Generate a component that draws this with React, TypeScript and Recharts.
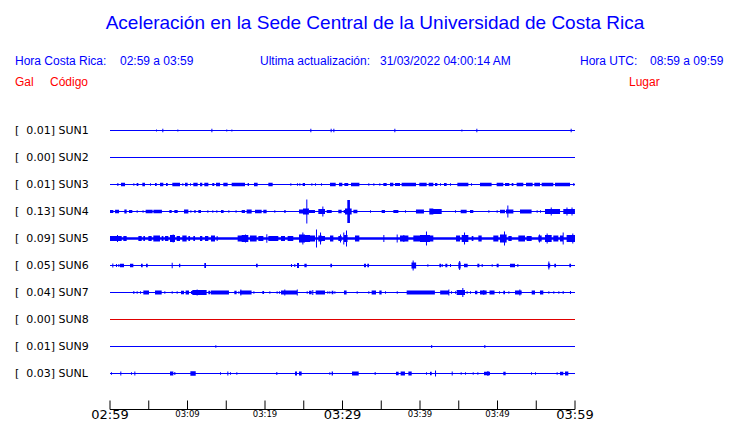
import React from "react";
import { ComposedChart, Area, XAxis, YAxis, ReferenceLine } from "recharts";

// station info, top to bottom
const codes = ["SUN1", "SUN2", "SUN3", "SUN4", "SUN5", "SUN6", "SUN7", "SUN8", "SUN9", "SUNL"];
const peaks = ["0.01", "0.00", "0.01", "0.13", "0.09", "0.05", "0.04", "0.00", "0.01", "0.03"];
const places = [
  "CIMAR", "Ingenieria P01", "Ingenieria P06", "EBCI", "Rectoria",
  "Agroalimentarias", "Archivo", "Electrica P06", "Electrica P01", "LANAMME-CTT",
];
const lineColors = ["#0000ff", "#0000ff", "#0000ff", "#0000ff", "#0000ff", "#0000ff", "#0000ff", "#e00000", "#0000ff", "#0000ff"];

// minutes after 02:59
const timeTicks = [0, 5, 10, 15, 20, 25, 30, 35, 40, 45, 50, 55, 60];
const timeLabels = ["02:59", "", "03:09", "", "03:19", "", "03:29", "", "03:39", "", "03:49", "", "03:59"];

// bursts: [start min, duration min, half amplitude]
const sun1 = [
  [5.94, 0.13, 1], [6.75, 0.13, 1.7], [8.69, 0.13, 1], [13.08, 0.13, 1.7], [15.0, 0.13, 1],
  [15.66, 0.13, 1], [25.85, 0.13, 1.7], [28.47, 0.13, 1.7], [28.82, 0.13, 1.7], [36.69, 0.13, 1.7],
  [45.34, 0.13, 1], [47.27, 0.13, 1.7], [59.44, 0.13, 1.7],
];
const sun2: number[][] = [];
const sun3 = [
  [0.95, 0.13, 1.5], [1.42, 0.52, 1.7], [3.01, 0.13, 1.3], [3.44, 0.22, 1.5], [4.17, 0.34, 1.7],
  [5.16, 0.13, 1.3], [5.81, 0.22, 1.5], [6.45, 0.43, 1.7], [7.23, 0.22, 1.5], [8.04, 0.99, 1.7],
  [9.33, 0.13, 1.3], [9.68, 0.34, 1.7], [10.32, 0.13, 1.3], [10.75, 0.56, 1.7], [11.61, 0.3, 1.7],
  [12.17, 0.52, 1.7], [13.2, 0.26, 1.5], [13.68, 0.52, 1.7], [14.62, 0.56, 1.7], [15.7, 1.72, 1.7],
  [17.76, 0.17, 1.5], [18.58, 0.47, 1.7], [20.43, 0.56, 1.7], [23.27, 0.13, 1.3], [24.13, 0.13, 1.3],
  [24.43, 0.13, 1.3], [24.86, 0.3, 1.5], [25.98, 0.13, 1.3], [26.45, 0.13, 1.3], [27.23, 0.13, 1.3],
  [28.39, 0.73, 1.7], [29.55, 0.43, 1.7], [30.24, 0.5, 1.5], [31.1, 1.08, 1.7], [33.33, 0.13, 1.3],
  [33.98, 0.13, 1.3], [34.75, 0.13, 1.3], [35.27, 0.43, 1.5], [36.13, 0.43, 1.7], [36.77, 0.65, 1.5],
  [37.63, 1.85, 1.7], [39.91, 0.95, 1.7], [41.12, 0.6, 1.7], [41.94, 0.3, 1.5], [42.58, 0.13, 1.3],
  [43.1, 0.34, 1.5], [43.87, 0.13, 1.3], [44.82, 1.42, 1.7], [46.58, 0.13, 1.3], [47.74, 1.5, 1.7],
  [49.89, 0.86, 1.7], [50.97, 0.56, 1.5], [51.83, 0.22, 1.5], [52.47, 0.86, 1.7], [53.68, 0.86, 1.7],
  [54.75, 0.73, 1.7], [55.7, 1.5, 1.7], [57.42, 1.94, 1.7], [59.78, 0.13, 1.5],
];
const sun4 = [
  [0, 0.43, 1.5], [0.65, 0.52, 1.7], [1.85, 0.3, 2], [2.45, 0.43, 1.5], [3.44, 0.13, 1.3],
  [4.2, 0.13, 1.3], [4.6, 0.9, 1.7], [5.6, 1.1, 1.7], [7.66, 0.3, 1.5], [8.3, 0.43, 1.5],
  [9.55, 0.56, 2], [10.37, 0.13, 1.3], [10.88, 0.17, 1.5], [11.4, 0.34, 1.5], [12.56, 0.13, 1.3],
  [13.2, 0.13, 1.3], [13.72, 0.13, 1.3], [14.32, 0.34, 1.5], [15.27, 0.13, 1.3], [16.2, 0.13, 1.3],
  [16.99, 0.43, 1.5], [17.63, 0.65, 2], [18.71, 0.86, 1.7], [19.78, 0.43, 1.7], [21.2, 0.13, 1.3],
  [22.49, 0.17, 1.5], [24.39, 0.56, 2], [24.9, 0.77, 3], [25.33, 0.13, 12], [25.68, 0.77, 1.5],
  [26.88, 0.86, 2.5], [27.4, 0.13, 5], [27.96, 0.65, 1.5], [29.46, 0.43, 1.7], [30.15, 0.17, 1.5],
  [30.32, 0.86, 3], [30.62, 0.34, 11.5], [31.4, 0.52, 1.7], [33.55, 0.13, 1.3], [35.05, 0.43, 1.5],
  [36.56, 0.65, 1.5], [38.06, 0.13, 1.3], [39.48, 1.03, 2], [41.2, 0.52, 3], [41.72, 1.08, 2.5],
  [44.52, 0.13, 1.3], [45.25, 0.77, 1.7], [46.45, 0.43, 1.5], [48.82, 0.13, 1.3], [49.89, 0.13, 1.3],
  [50.32, 0.65, 1.7], [51.1, 0.95, 2], [51.27, 0.13, 6], [52.9, 1.5, 2], [55.05, 0.13, 1.3],
  [55.48, 0.13, 1.3], [56.13, 1.94, 2.5], [56.87, 0.13, 4], [58.49, 1.5, 2.5], [58.9, 0.13, 4],
  [59.55, 0.13, 4],
];
const sun5 = [
  [0, 60, 1.3],
  [0, 0.65, 2.5], [0.9, 0.13, 3.5], [0.65, 0.86, 2.5], [1.72, 0.43, 2.5], [3.66, 0.43, 2.5],
  [4.3, 0.22, 2.5], [4.95, 0.43, 2.5], [5.59, 0.86, 3], [6.67, 0.22, 2.5], [7.1, 0.43, 2.5],
  [7.74, 0.65, 3.5], [8.09, 0.13, 4], [8.6, 0.43, 2.5], [9.33, 0.56, 3], [10.11, 0.22, 2.5],
  [10.75, 0.22, 2.5], [11.61, 0.3, 2.5], [12.26, 0.43, 2.5], [13.03, 0.52, 3], [13.76, 0.13, 2.5],
  [16.47, 0.52, 3], [16.99, 0.86, 3.5], [17.42, 0.13, 4], [18.06, 0.86, 3], [19.14, 0.65, 2.5],
  [20.17, 0.13, 4.3], [20.43, 1.29, 2.5], [22.06, 0.52, 2.5], [22.92, 0.73, 2.5], [24.39, 0.77, 4],
  [24.82, 0.13, 6], [25.16, 0.65, 3.5], [25.81, 0.65, 3], [26.58, 0.13, 9], [26.88, 0.43, 3],
  [27.1, 0.13, 6], [27.31, 0.43, 2.5], [28.39, 0.43, 3], [29.46, 0.43, 2.5], [29.68, 0.13, 4],
  [30.15, 0.5, 3.5], [30.1, 0.13, 6], [30.45, 0.13, 8], [31.61, 0.56, 3], [35.27, 0.13, 3.5],
  [36.99, 0.13, 4], [37.42, 1.08, 3], [37.85, 0.13, 3.5], [39.14, 0.86, 3], [40.0, 1.29, 3.5],
  [40.77, 0.13, 7], [41.29, 0.43, 3], [44.65, 0.52, 3], [45.68, 0.13, 6], [45.38, 0.86, 3.5],
  [46.67, 0.22, 2.5], [47.53, 0.43, 3], [49.46, 0.65, 3], [50.32, 0.86, 4], [50.84, 0.13, 7],
  [51.4, 0.43, 2.5], [52.69, 0.86, 3], [53.76, 0.65, 2.5], [55.27, 0.43, 3], [55.35, 0.13, 4],
  [56.13, 0.86, 3.5], [56.34, 0.13, 5], [57.2, 0.65, 3], [58.06, 0.43, 3], [58.41, 0.13, 6],
  [58.92, 1.08, 3.5], [59.65, 0.13, 5],
];
const sun6 = [
  [0.3, 0.13, 2], [0.77, 0.13, 1.5], [1.08, 0.13, 1.5], [1.29, 0.52, 1.7], [2.58, 0.43, 1.7],
  [4.0, 0.22, 1.7], [4.65, 0.22, 1.7], [7.96, 0.13, 2.7], [8.9, 0.17, 1.7], [12.17, 0.22, 2.5],
  [18.84, 0.22, 1.7], [23.35, 0.13, 1.5], [23.78, 0.13, 1.5], [24.13, 0.26, 2.5], [25.08, 0.3, 1.7],
  [28.43, 0.22, 1.7], [32.77, 0.26, 1.7], [33.2, 0.22, 1.7], [38.9, 0.6, 3], [39.05, 0.13, 5],
  [40.95, 0.13, 1.3], [42.5, 0.22, 1.7], [42.8, 0.13, 1.5], [43.27, 0.26, 1.7], [43.87, 0.13, 1.5],
  [44.95, 0.3, 3], [45.05, 0.13, 4.5], [45.68, 0.47, 1.7], [47.4, 0.26, 1.7], [47.96, 0.13, 1.5],
  [49.25, 0.13, 1.3], [49.89, 0.26, 1.7], [51.61, 0.65, 1.7], [52.56, 0.13, 1.5], [56.5, 0.3, 2],
  [56.56, 0.13, 4], [57.33, 0.22, 1.7], [59.27, 0.22, 1.7],
];
const sun7 = [
  [3.01, 0.13, 1.5], [3.44, 0.13, 1.3], [3.87, 0.13, 1.3], [4.3, 0.73, 2], [5.81, 0.86, 2],
  [7.01, 0.13, 1.3], [7.96, 0.13, 1.3], [8.6, 0.13, 1.3], [9.16, 0.39, 1.7], [9.76, 0.43, 2],
  [10.45, 0.17, 1.5], [10.62, 1.85, 2.5], [11.18, 0.13, 3], [12.69, 0.26, 1.7], [13.03, 2.32, 2],
  [16.04, 0.3, 1.7], [16.56, 0.13, 1.3], [16.77, 1.5, 2], [16.82, 0.13, 3], [18.5, 0.13, 1.3],
  [19.66, 0.22, 1.5], [20.56, 0.13, 1.3], [21.5, 0.13, 1.3], [21.8, 0.13, 1.3], [22.06, 2.15, 2],
  [22.49, 0.13, 3], [24.1, 0.13, 3], [25.38, 0.13, 1.3], [25.68, 0.34, 1.7], [26.1, 0.13, 2.5],
  [26.54, 1.2, 2], [28.04, 0.13, 1.3], [28.3, 0.13, 1.3], [28.6, 0.22, 1.7], [28.95, 0.13, 1.3],
  [30.19, 0.34, 2], [31.83, 0.13, 1.3], [33.33, 0.13, 1.3], [33.76, 0.56, 2], [34.75, 0.3, 2],
  [35.48, 0.13, 1.3], [37.0, 0.13, 1.3], [38.28, 0.65, 2], [38.92, 3.0, 2], [42.6, 0.43, 2],
  [43.0, 0.65, 2], [43.53, 0.26, 2], [43.66, 0.13, 3], [44.0, 0.13, 1.3], [44.52, 0.13, 1.3],
  [44.73, 1.08, 2.5], [45.46, 0.13, 4.5], [46.02, 0.13, 1.3], [46.45, 0.13, 1.3], [47.1, 0.3, 1.7],
  [47.74, 0.86, 2], [48.17, 0.13, 2.5], [48.97, 0.65, 2], [50.19, 0.13, 1.3], [50.75, 0.22, 1.7],
  [51.4, 0.13, 1.3], [52.26, 0.86, 2], [52.82, 0.13, 3], [54.41, 0.43, 2], [55.48, 0.43, 2],
  [56.56, 0.13, 1.3], [57.2, 0.13, 1.3], [57.85, 0.13, 1.3], [58.41, 0.13, 1.5], [59.35, 0.13, 1.5],
];
const sun8: number[][] = [];
const sun9 = [[13.59, 0.13, 1.2], [41.44, 0.13, 1.5], [48.3, 0.13, 1.5]];
const sunL = [
  [0.13, 0.13, 1.3], [1.33, 0.13, 2], [2.71, 0.13, 1.3], [3.14, 0.13, 2], [7.74, 0.43, 2],
  [8.3, 0.13, 1.5], [10.37, 0.69, 2.2], [14.19, 0.13, 1.3], [15.14, 0.13, 2], [15.48, 0.13, 1.3],
  [16.3, 0.13, 1.3], [21.46, 0.13, 1.5], [23.87, 0.26, 2], [24.39, 0.34, 2], [28.3, 0.13, 1.3],
  [28.6, 0.17, 2], [31.23, 0.86, 2], [34.15, 0.13, 1.5], [36.9, 0.34, 1.7], [37.5, 0.56, 2],
  [38.5, 0.43, 2], [40.77, 0.13, 1.3], [41.29, 0.22, 1.7], [41.94, 0.13, 3], [44.09, 0.13, 2],
  [45.25, 0.13, 1.3], [45.81, 0.13, 1.3], [46.8, 0.13, 1.3], [47.4, 0.13, 1.3], [48.26, 0.77, 1.7],
  [48.7, 0.13, 2.5], [50.75, 0.3, 1.7], [54.32, 0.13, 1.3], [54.84, 0.13, 1.3], [57.63, 0.13, 1.3],
  [58.06, 0.43, 1.7], [58.71, 0.43, 2],
];
const stationEvents = [sun1, sun2, sun3, sun4, sun5, sun6, sun7, sun8, sun9, sunL];

const ROW = 27;
const rowValues = codes.map((_, i) => ROW * (i + 1));

// turn the bursts into a step band around the row's baseline
function toBand(events: number[][], row: number) {
  const cuts = new Set<number>([0, 60]);
  events.forEach(([s, d]) => {
    cuts.add(s);
    cuts.add(Math.min(60, s + d));
  });
  const times = Array.from(cuts).sort((a, b) => a - b);
  return times.map((t) => {
    let a = 0;
    events.forEach(([s, d, amp]) => {
      if (t >= s && t < s + d) a = Math.max(a, amp);
    });
    return { t, band: [row - a, row + a] };
  });
}

const mono = "'DejaVu Sans', sans-serif";
const sans = "'Liberation Sans', Arial, sans-serif";

const LeftTick = ({ y, index }: any) => (
  <text x={15} y={y} dy={3} fontFamily={mono} fontSize={11} fill="#000">
    {"[\u00a0\u00a0" + peaks[index] + "] " + codes[index]}
  </text>
);

const RightTick = ({ y, index }: any) => (
  <text x={587} y={y} dy={3} fontFamily={mono} fontSize={11} fill="#000">
    {places[index]}
  </text>
);

const TimeTick = ({ x, y, index }: any) => {
  const big = index % 6 === 0;
  return (
    <g>
      <line x1={x} y1={y} x2={x} y2={y - 9} stroke="#000" />
      {timeLabels[index] && (
        <text
          x={x}
          y={y + (big ? 9.5 : 7.5)}
          textAnchor="middle"
          fontFamily={mono}
          fontSize={big ? 13 : 8.5}
          fill="#000"
        >
          {timeLabels[index]}
        </text>
      )}
    </g>
  );
};

const head = (left: number, top: number, text: string, color = "#0000ff") => (
  <div
    style={{
      position: "absolute",
      left,
      top,
      fontFamily: sans,
      fontSize: 12,
      lineHeight: "12px",
      color,
      whiteSpace: "pre",
    }}
  >
    {text}
  </div>
);

export default function App() {
  return (
    <div style={{ position: "absolute", left: 0, top: 0, width: 740, height: 423, background: "#fff" }}>
      <div
        style={{
          position: "absolute",
          left: 0,
          width: 750,
          top: 13,
          textAlign: "center",
          fontFamily: sans,
          fontSize: 19,
          lineHeight: "19px",
          color: "#0000ff",
        }}
      >
        Aceleración en la Sede Central de la Universidad de Costa Rica
      </div>
      {head(15, 55, "Hora Costa Rica:")}
      {head(120, 55, "02:59 a 03:59")}
      {head(260, 55, "Ultima actualización:")}
      {head(380, 55, "31/03/2022 04:00:14 AM")}
      {head(580, 55, "Hora UTC:")}
      {head(650, 55, "08:59 a 09:59")}
      {head(15, 76, "Gal", "#ff0000")}
      {head(50, 76, "Código", "#ff0000")}
      {head(629, 76, "Lugar", "#ff0000")}

      <ComposedChart
        width={740}
        height={423}
        margin={{ top: 103.5, right: 0, bottom: 0, left: 0 }}
        style={{ position: "absolute", left: 0, top: 0 }}
      >
        <XAxis
          type="number"
          dataKey="t"
          domain={[0, 60]}
          ticks={timeTicks}
          interval={0}
          height={13.5}
          tickSize={0}
          tickMargin={0}
          tickLine={false}
          axisLine={{ stroke: "#000" }}
          tick={<TimeTick />}
          allowDataOverflow
        />
        <YAxis
          yAxisId="l"
          type="number"
          domain={[0, 306]}
          reversed
          ticks={rowValues}
          interval={0}
          width={110}
          axisLine={false}
          tickLine={false}
          tick={<LeftTick />}
        />
        <YAxis
          yAxisId="r"
          orientation="right"
          type="number"
          domain={[0, 306]}
          reversed
          ticks={rowValues}
          interval={0}
          width={165}
          axisLine={false}
          tickLine={false}
          tick={<RightTick />}
        />
        {rowValues.map((v, i) => (
          <ReferenceLine key={"b" + i} yAxisId="l" y={v} stroke={lineColors[i]} strokeWidth={1} />
        ))}
        {stationEvents.map((ev, i) => (
          <Area
            key={codes[i]}
            yAxisId="l"
            data={toBand(ev, rowValues[i])}
            dataKey="band"
            type="stepAfter"
            stroke="none"
            fill={lineColors[i]}
            fillOpacity={1}
            dot={false}
            activeDot={false}
            isAnimationActive={false}
          />
        ))}
      </ComposedChart>
    </div>
  );
}
